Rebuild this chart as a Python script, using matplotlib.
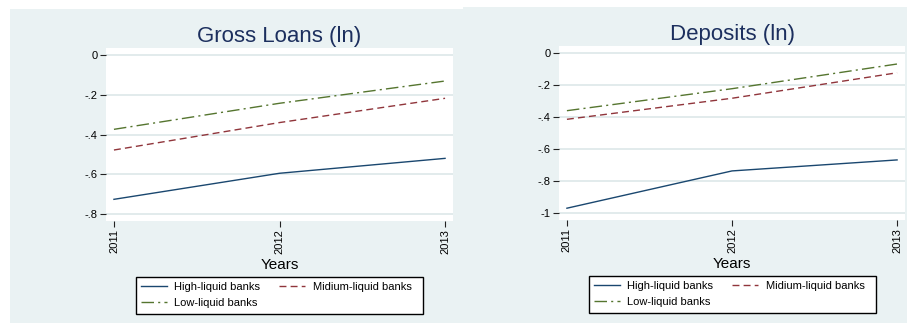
import matplotlib
matplotlib.use('Agg')
import matplotlib.pyplot as plt
from matplotlib.patches import Rectangle

plt.rcParams['font.family'] = ['Liberation Sans', 'DejaVu Sans']

years = [2011, 2012, 2013]
series_names = ['High-liquid banks', 'Midium-liquid banks', 'Low-liquid banks']

loans_high = [-0.726, -0.595, -0.520]
loans_mid = [-0.478, -0.340, -0.218]
loans_low = [-0.374, -0.243, -0.131]

dep_high = [-0.972, -0.738, -0.669]
dep_mid = [-0.414, -0.282, -0.122]
dep_low = [-0.360, -0.222, -0.067]

loans_ticks = [0, -0.2, -0.4, -0.6, -0.8]
loans_ticklabels = ['0', '-.2', '-.4', '-.6', '-.8']
dep_ticks = [0, -0.2, -0.4, -0.6, -0.8, -1]
dep_ticklabels = ['0', '-.2', '-.4', '-.6', '-.8', '-1']

W, H = 907, 324
BG = '#eaf2f3'
GRID = '#dfe9eb'
colors = ['#1a476f', '#90353b', '#55752f']
styles = ['-', (0, (5, 3)), (0, (9, 3, 1.5, 3))]

fig = plt.figure(figsize=(W / 100, H / 100), dpi=100)


def frac(x0, y0, x1, y1):
    # pixel box (top-left origin) -> figure fraction rect
    return [x0 / W, 1 - y1 / H, (x1 - x0) / W, (y1 - y0) / H]


# panel backgrounds
for box in [(10, 9, 463, 323), (463, 7, 907, 323)]:
    bg = fig.add_axes(frac(*box))
    bg.set_facecolor(BG)
    bg.set_xticks([])
    bg.set_yticks([])
    for sp in bg.spines.values():
        sp.set_visible(False)


def panel(rect, title, series, ticks, ticklabels, ylim, leg_box):
    ax = fig.add_axes(frac(*rect))
    ax.set_facecolor('white')
    lines = []
    for s, name, c, ls in zip(series, series_names, colors, styles):
        ln, = ax.plot(years, s, color=c, linestyle=ls, lw=1.0, label=name)
        lines.append(ln)
    ax.set_xlim(2011 - 0.048, 2013 + 0.048)
    ax.set_ylim(*ylim)
    ax.set_yticks(ticks)
    ax.set_yticklabels(ticklabels, fontsize=8)
    ax.set_xticks(years)
    ax.set_xticklabels([str(y) for y in years], rotation=90, fontsize=8)
    ax.tick_params(length=4, width=0.8, color='#222222', pad=2)
    for t in ticks:
        ax.axhline(t, color=GRID, lw=1.3, zorder=0)
    for sp in ax.spines.values():
        sp.set_visible(False)
    ax.set_title(title, fontsize=16, color='#1c2f5e', pad=4)
    ax.set_xlabel('Years', fontsize=11, labelpad=3)

    # legend frame drawn separately so the box can be wider than its content
    x0, y0, x1, y1 = leg_box
    fr = frac(*leg_box)
    fig.patches.append(Rectangle((fr[0], fr[1]), fr[2], fr[3], transform=fig.transFigure,
                                 facecolor='white', edgecolor='black', lw=1.0, zorder=5))
    # row-wise order like Stata: High, Midium / Low
    h = [lines[0], lines[2], lines[1]]
    l = [series_names[0], series_names[2], series_names[1]]
    leg = fig.legend(h, l, loc='upper left', bbox_to_anchor=(x0 / W, 1 - y0 / H),
                     ncol=2, fontsize=8, frameon=False, borderaxespad=0, borderpad=0.45,
                     handlelength=2.3, columnspacing=1.7, labelspacing=0.5,
                     handletextpad=0.7)
    leg.set_zorder(6)
    return ax


panel((106, 48, 453, 221), 'Gross Loans (ln)', [loans_high, loans_mid, loans_low],
      loans_ticks, loans_ticklabels, (-0.835, 0.035), (136, 277, 423, 314))
panel((559, 46, 905, 220), 'Deposits (ln)', [dep_high, dep_mid, dep_low],
      dep_ticks, dep_ticklabels, (-1.046, 0.046), (589, 276, 876, 313))

fig.savefig('out.png', dpi=100, facecolor='white')
